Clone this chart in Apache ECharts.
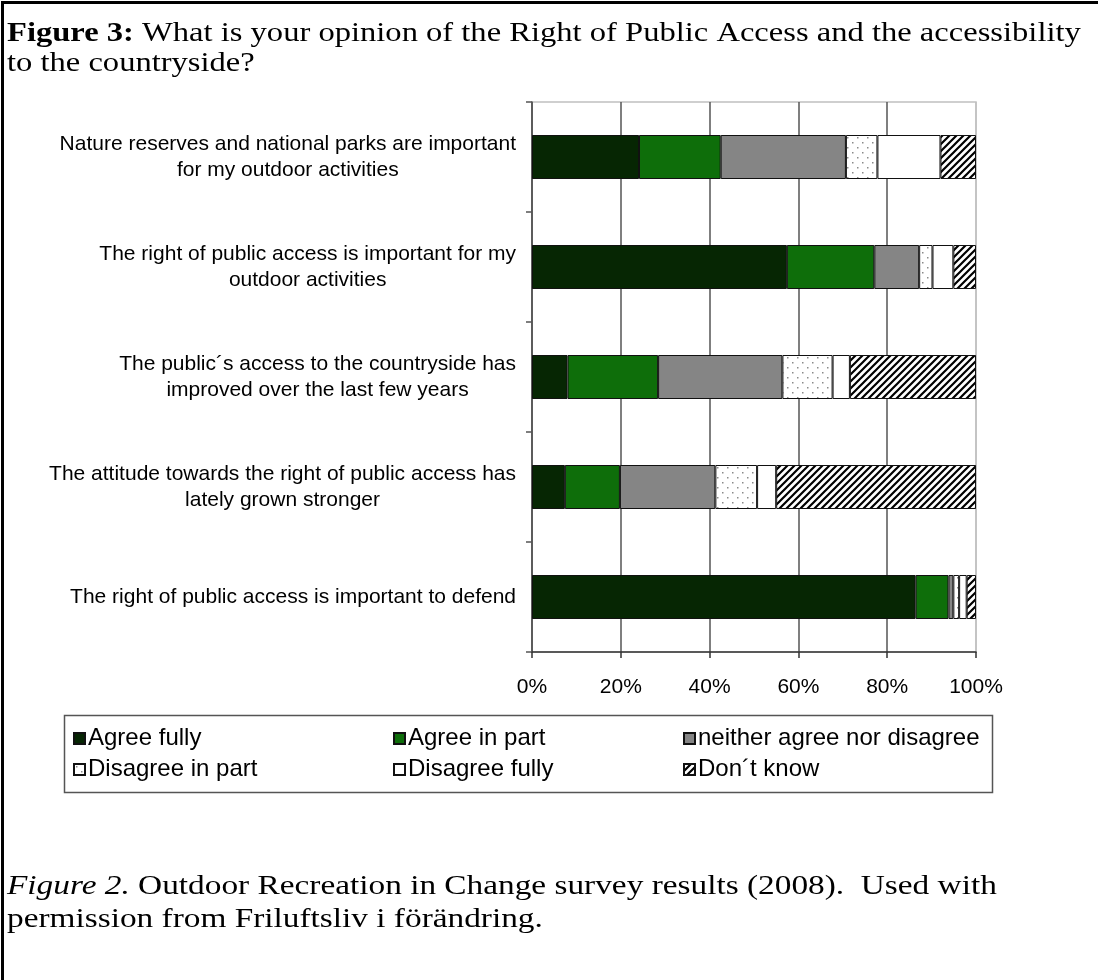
<!DOCTYPE html>
<html>
<head>
<meta charset="utf-8">
<script src="https://cdn.jsdelivr.net/npm/echarts@6/dist/echarts.min.js"></script>
<style>
  html, body { margin: 0; padding: 0; background: #fff; }
  #chart { width: 1098px; height: 980px; }
</style>
</head>
<body>
<div id="chart"></div>
<script>
// Survey statements (top to bottom)
const categories = [
  'Nature reserves and national parks are important\nfor my outdoor activities',
  'The right of public access is important for my\noutdoor activities',
  'The public\u00b4s access to the countryside has\nimproved over the last few years',
  'The attitude towards the right of public access has\nlately grown stronger',
  'The right of public access is important to defend'
];

// Share of answers per statement, in percent
const agreeFully     = [24.1, 57.4,  8.0,  7.4, 86.4];
const agreeInPart    = [18.4, 19.7, 20.4, 12.4,  7.4];
const neither        = [28.2, 10.1, 28.0, 21.5,  1.1];
const disagreeInPart = [ 7.1,  3.0, 11.3,  9.4,  1.3];
const disagreeFully  = [14.2,  4.7,  3.9,  4.3,  1.7];
const dontKnow       = [ 8.0,  5.1, 28.4, 45.0,  2.1];

const seriesNames = ['Agree fully', 'Agree in part', 'neither agree nor disagree',
                     'Disagree in part', 'Disagree fully', 'Don\u00b4t know'];
const tickLabels = ['0%', '20%', '40%', '60%', '80%', '100%'];

// Fill patterns
function dotPattern() {
  const c = document.createElement('canvas');
  c.width = 10; c.height = 10;
  const g = c.getContext('2d');
  g.fillStyle = '#fff'; g.fillRect(0, 0, 10, 10);
  g.fillStyle = '#8a8a8a';
  g.fillRect(2, 2, 1.5, 1.5);
  g.fillRect(7, 7, 1.5, 1.5);
  return { image: c, repeat: 'repeat' };
}
function hatchPattern() {
  const s = 7;
  const c = document.createElement('canvas');
  c.width = s; c.height = s;
  const g = c.getContext('2d');
  g.fillStyle = '#fff'; g.fillRect(0, 0, s, s);
  g.strokeStyle = '#000'; g.lineWidth = 2.2;
  g.beginPath();
  g.moveTo(-1, s + 1); g.lineTo(s + 1, -1);
  g.moveTo(-1, 1); g.lineTo(1, -1);
  g.moveTo(s - 1, s + 1); g.lineTo(s + 1, s - 1);
  g.stroke();
  return { image: c, repeat: 'repeat' };
}

const fills = ['#062603', '#0e6e0a', '#858585', dotPattern(), '#ffffff', hatchPattern()];
const dataSets = [agreeFully, agreeInPart, neither, disagreeInPart, disagreeFully, dontKnow];

const series = dataSets.map((d, i) => ({
  name: seriesNames[i],
  type: 'bar',
  stack: 'total',
  barWidth: '40%',
  data: d,
  itemStyle: { color: fills[i], borderColor: '#111', borderWidth: 1 },
  emphasis: { disabled: true }
}));

const labelFont = "'Liberation Sans', Arial, sans-serif";
const serif = "'Liberation Serif', 'Times New Roman', serif";

function legendCol(left, names) {
  return {
    orient: 'vertical',
    left: left, top: 721,
    itemWidth: 11, itemHeight: 11,
    itemGap: 6,
    icon: 'rect',
    data: names,
    selectedMode: false,
    textStyle: { fontFamily: labelFont, fontSize: 24, color: '#000', padding: [0, 0, 0, -2], lineHeight: 25 }
  };
}

const chart = echarts.init(document.getElementById('chart'));
chart.setOption({
  animation: false,
  backgroundColor: '#fff',
  grid: { left: 532, right: 122, top: 102, height: 550, show: true, borderColor: '#c0c0c0', borderWidth: 1.5 },
  xAxis: {
    type: 'value', min: 0, max: 100, interval: 20,
    axisLine: { show: true, lineStyle: { color: '#333', width: 1.5 } },
    axisTick: { show: true, length: 6, lineStyle: { color: '#333', width: 1.5 } },
    axisLabel: {
      margin: 25, fontFamily: labelFont, fontSize: 21, color: '#000',
      formatter: (v) => tickLabels[Math.round(v / 20)]
    },
    splitLine: { show: true, lineStyle: { color: ['#555', '#555', '#555', '#555', '#555', '#c0c0c0'], width: 1.5 } }
  },
  yAxis: {
    type: 'category', inverse: true, data: categories,
    axisLine: { show: true, lineStyle: { color: '#555', width: 1.5 } },
    axisTick: { show: true, length: 6, lineStyle: { color: '#555', width: 1.5 } },
    axisLabel: {
      margin: 16,
      formatter: (v) => v.split('\n').map(s => '{c|' + s + '}').join('\n'),
      rich: { c: { align: 'center', fontFamily: labelFont, fontSize: 21, color: '#000', lineHeight: 26 } }
    }
  },
  legend: [
    legendCol(68, [seriesNames[0], seriesNames[3]]),
    legendCol(388, [seriesNames[1], seriesNames[4]]),
    legendCol(678, [seriesNames[2], seriesNames[5]])
  ],
  series: series,
  graphic: [
    { type: 'rect', left: 0, top: 0, shape: { width: 1097, height: 980 }, style: { fill: 'none', stroke: '#000', lineWidth: 3 }, silent: true, z: 100 },
    { type: 'rect', left: 62, top: 713, shape: { width: 928, height: 77 }, style: { fill: 'none', stroke: '#555', lineWidth: 1.5 }, silent: true },
    {
      type: 'text', x: 7, y: 19, scaleX: 1.163,
      style: {
        x: 0, y: 0,
        text: '{b|Figure 3:} What is your opinion of the Right of Public Access and the accessibility\nto the countryside?',
        font: '28px ' + serif, fill: '#000', lineHeight: 30,
        rich: { b: { fontWeight: 'bold', fontSize: 28, fontFamily: serif } }
      }
    },
    {
      type: 'text', x: 7, y: 870, scaleX: 1.19,
      style: {
        x: 0, y: 0,
        text: '{i|Figure 2.} Outdoor Recreation in Change survey results (2008).  Used with\npermission from Friluftsliv i f\u00f6r\u00e4ndring.',
        font: '28px ' + serif, fill: '#000', lineHeight: 33,
        rich: { i: { fontStyle: 'italic', fontSize: 28, fontFamily: serif } }
      }
    }
  ]
});
</script>
</body>
</html>
